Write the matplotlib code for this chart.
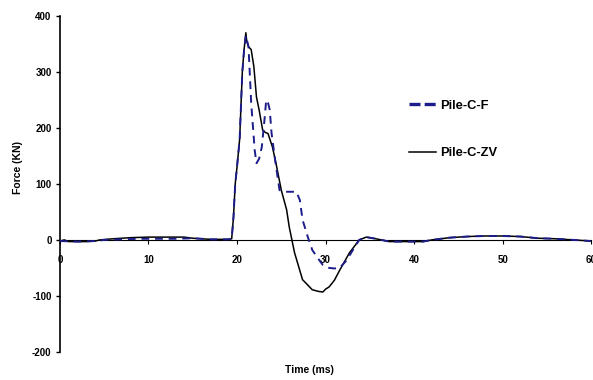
import numpy as np
import matplotlib.pyplot as plt

plt.rcParams["font.family"] = ["Liberation Sans", "DejaVu Sans"]
plt.rcParams["axes.unicode_minus"] = False

# Pile-C-ZV (solid black)
zv_time = [0, 0.5, 1, 2, 3, 4, 4.5, 6, 8, 10, 12, 14, 15, 16, 17, 18, 19, 19.4,
           19.6, 19.8, 20.0, 20.3, 20.6, 20.8, 21.0, 21.1, 21.3, 21.6, 21.9, 22.2,
           22.5, 22.9, 23.2, 23.5, 24.0, 24.4, 25.0, 25.6, 25.9, 26.5, 27.4, 28.5,
           29.2, 29.7, 30.0, 30.4, 31.0, 31.6, 32.7, 33.8, 34.6, 35.7, 37.2, 39,
           41, 42, 44, 46, 48, 50, 52, 54, 56, 58, 60]
zv_force = [-2, 0, -3, -3, -3, -2, 0, 2, 4, 5, 5, 5, 3, 2, 1, 1, 1, 2,
            40, 100, 130, 180, 300, 340, 370, 355, 345, 340, 310, 255,
            232, 196, 192, 190, 166, 137, 89, 54, 23, -23, -71, -89,
            -92, -93, -88, -84, -72, -54, -23, 0, 5, 2, -3, -3,
            -3, 0, 4, 6, 7, 7, 6, 3, 2, 0, -2]

# Pile-C-F (dashed blue)
f_time = [0, 2, 4, 5, 7, 9, 11, 13, 15, 16, 17, 18, 19, 19.4, 19.6, 19.8, 20.0,
          20.3, 20.6, 20.8, 21.0, 21.3, 21.6, 21.8, 22.0, 22.2, 22.5, 22.8, 23.1,
          23.3, 23.5, 23.7, 23.9, 24.3, 24.8, 25.4, 26.0, 26.7, 27.1, 27.4, 28.0,
          28.5, 29.1, 29.7, 30.4, 31.0, 31.6, 32.4, 33.2, 33.8, 34.6, 35.7, 37.2,
          39, 41, 42, 44, 46, 48, 50, 52, 54, 56, 58, 60]
f_force = [-2, -3, -2, 0, 1, 2, 2, 2, 3, 2, 1, 1, 1, 2, 40, 100, 130,
           180, 300, 340, 365, 345, 245, 202, 160, 137, 145, 166, 214,
           250, 245, 232, 191, 143, 89, 86, 86, 86, 71, 36, 5,
           -18, -32, -45, -50, -51, -50, -36, -15, 0, 5, 2, -3,
           -3, -3, 0, 4, 6, 7, 7, 6, 3, 2, 0, -2]

x_ticks = [0, 10, 20, 30, 40, 50, 60]
y_ticks = [-200, -100, 0, 100, 200, 300, 400]

fig = plt.figure(figsize=(5.93, 3.8), dpi=100)
ax = fig.add_axes([0.101, 0.074, 0.896, 0.884])

ax.plot(zv_time, zv_force, color="black", lw=1.1, label="Pile-C-ZV", zorder=3)
ax.plot(f_time, f_force, color="#1c1c8a", lw=1.4, ls=(0, (4, 3)),
        label="Pile-C-F", zorder=4)

ax.set_xlim(0, 60)
ax.set_ylim(-200, 400)
ax.set_xticks(x_ticks)
ax.set_yticks(y_ticks)

ax.spines["top"].set_visible(False)
ax.spines["right"].set_visible(False)
ax.spines["bottom"].set_position(("data", 0))
ax.spines["bottom"].set_linewidth(0.8)
ax.spines["left"].set_linewidth(1.2)

ax.tick_params(axis="y", direction="out", length=3, width=1, labelsize=7, pad=3)
ax.tick_params(axis="x", direction="out", length=3, width=0.8, labelsize=7, pad=8)
for lab in ax.get_xticklabels() + ax.get_yticklabels():
    lab.set_fontweight("bold")

ax.set_xlabel("Time (ms)", fontsize=7.5, fontweight="bold")
ax.xaxis.set_label_coords(0.47, -0.04)
ax.set_ylabel("Force (KN)", fontsize=7.5, fontweight="bold")
ax.yaxis.set_label_coords(-0.07, 0.55)

handles, labels = ax.get_legend_handles_labels()
leg = ax.legend(handles[::-1], labels[::-1], loc="upper left",
                bbox_to_anchor=(0.678, 0.755), bbox_transform=fig.transFigure,
                frameon=False, fontsize=9.3, handlelength=2.1,
                handletextpad=0.35, labelspacing=2.75, borderpad=0)
for t in leg.get_texts():
    t.set_fontweight("bold")
leg.get_lines()[0].set_linewidth(2.4)
leg.get_lines()[0].set_linestyle((0, (3.3, 1.25)))

fig.savefig("out.png", dpi=100)
